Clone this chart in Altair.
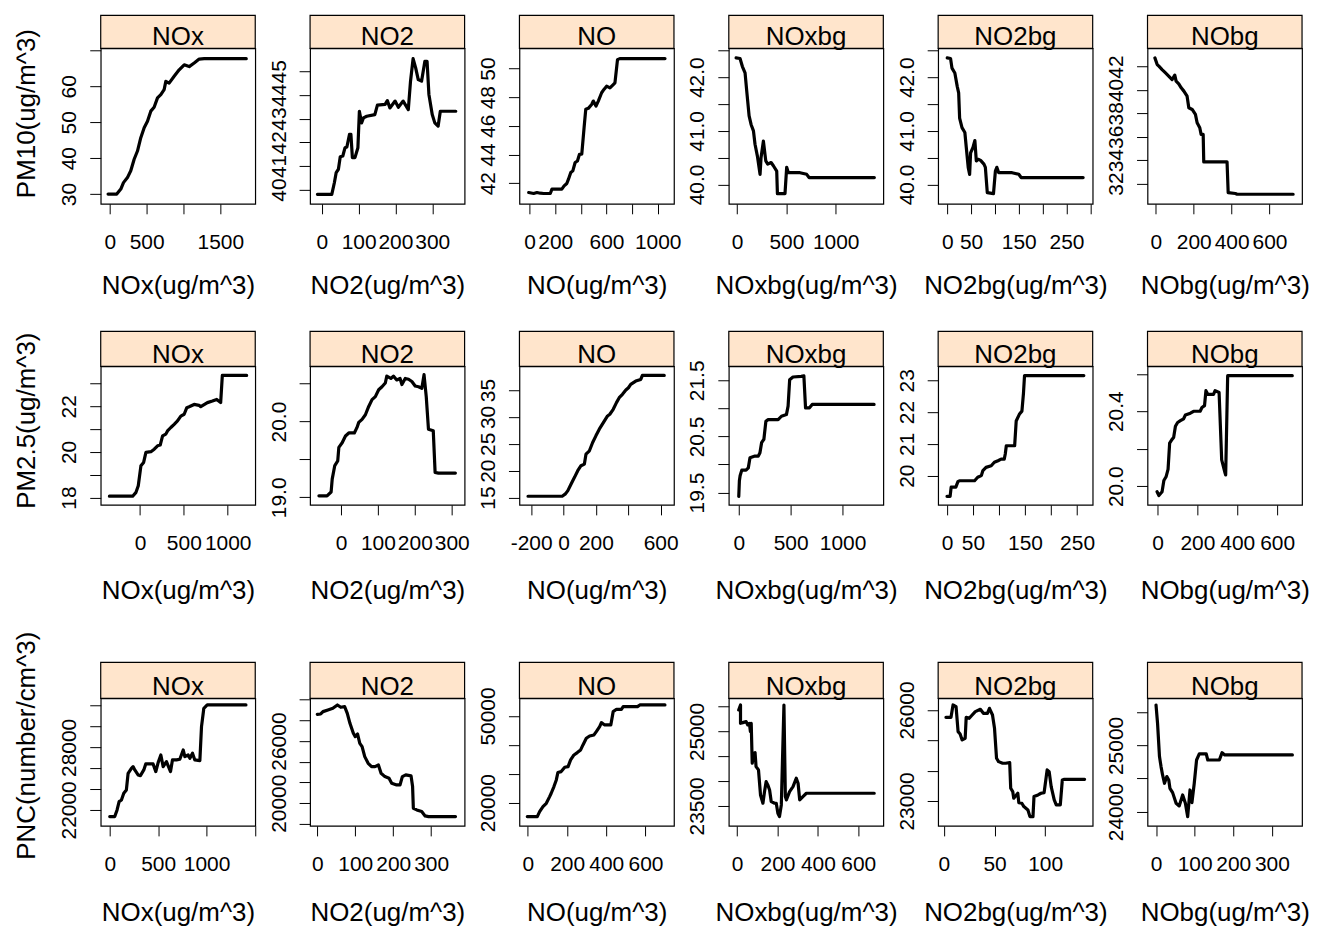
import altair as alt
import pandas as pd

FONT = "Liberation Sans"
POLLUTANTS = ["NOx", "NO2", "NO", "NOxbg", "NO2bg", "NObg"]
X_TITLES = [p + "(ug/m^3)" for p in POLLUTANTS]
Y_TITLES = ["PM10(ug/m^3)", "PM2.5(ug/m^3)", "PNC(number/cm^3)"]

# ---------------- PM10 row ----------------
PM10_NOx_x = [-23, 95, 150, 186, 240, 285, 331, 376, 421, 467, 512, 557, 602, 648, 693, 738, 761, 806, 874, 942, 1010, 1078, 1146, 1214, 1282, 1853]
PM10_NOx_y = [30.0, 30.0, 31.4, 33.2, 34.6, 36.5, 39.7, 42.0, 45.7, 48.5, 50.3, 53.1, 54.2, 56.8, 57.7, 59.1, 61.4, 60.9, 62.8, 64.6, 66.0, 65.5, 66.5, 67.6, 67.7, 67.7]

PM10_NO2_x = [-12, 27, 34, 39, 45, 50, 57, 63, 68, 75, 79, 83, 90, 98, 102, 108, 113, 122, 144, 151, 172, 178, 185, 199, 208, 221, 235, 241, 248, 255, 262, 271, 280, 286, 291, 300, 307, 316, 322, 364]
PM10_NO2_y = [39.80, 39.80, 40.29, 40.72, 40.86, 41.39, 41.42, 41.77, 41.80, 42.33, 42.33, 41.35, 41.35, 41.77, 43.31, 42.82, 43.03, 43.10, 43.17, 43.57, 43.60, 43.76, 43.45, 43.74, 43.48, 43.74, 43.38, 44.58, 45.53, 45.14, 44.65, 44.58, 45.42, 45.42, 44.02, 43.17, 42.82, 42.68, 43.31, 43.31]

PM10_NO_x = [-8, 31, 57, 83, 109, 161, 174, 251, 269, 290, 303, 321, 337, 355, 373, 389, 407, 425, 438, 458, 484, 497, 518, 536, 562, 580, 601, 627, 653, 666, 686, 704, 1057]
PM10_NO_y = [41.35, 41.28, 41.35, 41.30, 41.28, 41.28, 41.58, 41.58, 41.81, 41.98, 42.28, 42.74, 42.86, 43.44, 43.55, 44.02, 44.02, 45.87, 47.15, 47.22, 47.49, 47.73, 47.38, 47.73, 48.31, 48.54, 48.77, 48.65, 48.88, 49.00, 50.62, 50.69, 50.69]

PM10_NOxbg_x = [-10, 30, 54, 81, 98, 122, 142, 166, 182, 206, 233, 243, 267, 291, 311, 345, 368, 402, 409, 486, 503, 520, 638, 706, 730, 1392]
PM10_NOxbg_y = [42.36, 42.35, 42.20, 42.08, 41.74, 41.28, 41.12, 41.00, 40.75, 40.53, 40.19, 40.50, 40.81, 40.44, 40.38, 40.41, 40.35, 40.25, 39.83, 39.83, 40.32, 40.22, 40.22, 40.19, 40.13, 40.13]

PM10_NO2bg_x = [0, 7, 10, 16, 21, 24, 26, 31, 37, 40, 44, 47, 49, 54, 58, 61, 65, 70, 77, 80, 84, 97, 101, 104, 108, 136, 150, 155, 285]
PM10_NO2bg_y = [42.36, 42.35, 42.17, 42.08, 41.83, 41.71, 41.24, 41.06, 40.97, 40.69, 40.32, 40.19, 40.59, 40.69, 40.82, 40.44, 40.47, 40.45, 40.38, 40.32, 39.85, 39.83, 40.25, 40.32, 40.22, 40.22, 40.19, 40.13, 40.13]

PM10_NObg_x = [-5, 7, 16, 33, 51, 69, 86, 100, 107, 121, 134, 148, 165, 174, 192, 209, 218, 232, 239, 250, 253, 376, 382, 420, 429, 725]
PM10_NObg_y = [42.74, 42.17, 42.03, 41.74, 41.46, 41.17, 40.89, 41.26, 40.75, 40.52, 40.18, 39.90, 39.47, 38.48, 38.33, 37.91, 37.20, 36.77, 36.20, 36.20, 33.85, 33.85, 31.23, 31.15, 31.09, 31.09]

# ---------------- PM2.5 row ----------------
PM25_NOx_x = [-348, -83, -45, -19, 11, 42, 68, 125, 163, 201, 231, 258, 295, 314, 352, 390, 428, 466, 504, 534, 561, 617, 674, 693, 769, 826, 875, 920, 939, 1216]
PM25_NOx_y = [18.06, 18.06, 18.23, 18.52, 19.39, 19.54, 19.98, 20.01, 20.12, 20.27, 20.30, 20.70, 20.78, 20.92, 21.07, 21.21, 21.36, 21.57, 21.65, 21.94, 21.98, 22.08, 22.04, 21.98, 22.16, 22.23, 22.30, 22.16, 23.35, 23.35]

PM25_NO2_x = [-60, -38, -27, -24, -17, -9, -6, 3, 12, 21, 36, 43, 48, 57, 66, 75, 84, 93, 102, 111, 120, 124, 135, 142, 151, 160, 165, 174, 183, 192, 201, 210, 219, 225, 231, 237, 250, 255, 264, 310]
PM25_NO2_y = [19.02, 19.02, 19.07, 19.24, 19.42, 19.48, 19.66, 19.72, 19.81, 19.85, 19.85, 19.92, 19.99, 20.03, 20.09, 20.20, 20.29, 20.33, 20.42, 20.46, 20.51, 20.60, 20.57, 20.60, 20.55, 20.57, 20.49, 20.57, 20.56, 20.53, 20.47, 20.46, 20.44, 20.62, 20.33, 19.90, 19.88, 19.33, 19.32, 19.32]

PM25_NO_x = [-219, -8, 12, 27, 47, 68, 88, 108, 129, 139, 160, 180, 200, 221, 246, 272, 286, 307, 327, 344, 364, 385, 401, 415, 446, 477, 487, 503, 622]
PM25_NO_y = [15.25, 15.25, 15.68, 16.30, 17.53, 18.76, 20.00, 20.92, 21.23, 23.08, 23.70, 25.24, 26.48, 27.71, 28.94, 30.18, 30.49, 31.41, 32.65, 33.57, 34.19, 34.99, 35.42, 36.04, 36.66, 36.97, 37.71, 37.71, 37.71]

PM25_NOxbg_x = [0, 6, 13, 29, 70, 92, 108, 156, 188, 204, 220, 242, 261, 283, 379, 411, 459, 475, 490, 522, 602, 627, 643, 681, 707, 1303]
PM25_NOxbg_y = [19.43, 19.71, 19.80, 19.90, 19.90, 19.94, 20.12, 20.15, 20.15, 20.21, 20.39, 20.45, 20.77, 20.80, 20.80, 20.86, 20.89, 21.04, 21.51, 21.56, 21.57, 21.58, 21.01, 21.01, 21.07, 21.07]

PM25_NO2bg_x = [0, 6, 8, 17, 21, 24, 53, 59, 66, 69, 75, 85, 91, 98, 104, 110, 112, 114, 123, 130, 133, 139, 144, 147, 149, 158, 263]
PM25_NO2bg_y = [19.35, 19.35, 19.64, 19.64, 19.81, 19.84, 19.84, 19.95, 20.00, 20.16, 20.26, 20.31, 20.42, 20.47, 20.52, 20.52, 20.68, 20.94, 20.94, 20.94, 21.72, 21.93, 22.03, 22.60, 23.15, 23.15, 23.15]

PM25_NObg_x = [-2, 7, 23, 32, 43, 53, 61, 73, 81, 90, 101, 115, 131, 140, 165, 181, 214, 223, 236, 243, 253, 281, 289, 309, 322, 339, 342, 352, 372, 676]
PM25_NObg_y = [19.97, 19.95, 19.97, 20.03, 20.05, 20.09, 20.23, 20.25, 20.26, 20.32, 20.34, 20.35, 20.36, 20.38, 20.39, 20.40, 20.40, 20.42, 20.43, 20.51, 20.49, 20.49, 20.51, 20.50, 20.14, 20.07, 20.06, 20.59, 20.59, 20.59]

# ---------------- PNC row ----------------
PNC_NOx_x = [0, 52, 76, 97, 121, 145, 172, 190, 224, 241, 259, 293, 317, 352, 372, 407, 448, 476, 500, 528, 552, 586, 628, 648, 690, 724, 759, 776, 810, 828, 855, 879, 931, 948, 972, 1007, 1407]
PNC_NOx_y = [21361, 21361, 22000, 22799, 22958, 23598, 23917, 25515, 25994, 26154, 25834, 25355, 25291, 25834, 26409, 26409, 26409, 25674, 26537, 27272, 26154, 26633, 25674, 26793, 26793, 26856, 27751, 27112, 27272, 26952, 27432, 26793, 26729, 29988, 31745, 32064, 32064]

PNC_NO2_x = [0, 9, 15, 28, 41, 53, 62, 72, 79, 86, 95, 100, 106, 112, 118, 125, 134, 143, 152, 161, 168, 178, 189, 196, 209, 218, 224, 233, 247, 251, 253, 262, 275, 284, 293, 364]
PNC_NO2_y = [28584, 28616, 28841, 29002, 29163, 29484, 29259, 29324, 28681, 27716, 26752, 26430, 26688, 25787, 25466, 24501, 23858, 23537, 23537, 23697, 22894, 22572, 22411, 21929, 21768, 21768, 22572, 22733, 22636, 21608, 19518, 19357, 19196, 18778, 18714, 18714]

PNC_NO_x = [-3, 48, 60, 77, 94, 111, 119, 133, 145, 153, 170, 188, 205, 218, 235, 252, 269, 281, 298, 315, 337, 349, 366, 375, 392, 423, 435, 452, 477, 486, 529, 559, 571, 597, 699]
PNC_NO_y = [15153, 15153, 16884, 18615, 19769, 22077, 23231, 25539, 27847, 30386, 30732, 32232, 32463, 34771, 36502, 37310, 38233, 39964, 42272, 43080, 43426, 44580, 46311, 47696, 46888, 46888, 51504, 52312, 52312, 53235, 53235, 53235, 53812, 53812, 53812]

PNC_NOxbg_x = [8, 17, 17, 28, 45, 53, 61, 66, 70, 75, 83, 89, 94, 106, 116, 128, 136, 144, 152, 161, 169, 186, 194, 202, 210, 219, 232, 239, 244, 260, 277, 293, 302, 310, 326, 343, 679]
PNC_NOxbg_y = [25433, 25533, 25164, 25178, 25198, 25131, 25164, 24997, 25164, 24359, 24560, 24574, 24292, 24225, 23721, 23554, 23789, 23990, 23923, 23822, 23587, 23554, 23554, 23352, 23285, 23520, 25533, 23688, 23621, 23789, 23889, 24057, 23956, 23621, 23688, 23755, 23755]

PNC_NO2bg_x = [2, 7, 9, 12, 14, 16, 18, 21, 22, 25, 27, 31, 36, 39, 43, 45, 48, 50, 52, 54, 58, 61, 65, 66, 68, 69, 73, 74, 77, 79, 83, 85, 88, 89, 93, 96, 99, 102, 104, 106, 109, 111, 115, 117, 119, 139]
PNC_NO2bg_y = [25758, 25758, 26165, 26110, 25286, 25209, 25011, 25066, 25758, 25725, 25802, 25945, 26022, 25890, 25890, 26055, 25835, 25396, 24407, 24297, 24242, 24242, 24264, 23418, 23308, 23088, 23253, 22945, 22923, 22813, 22703, 22483, 22483, 23143, 23198, 23253, 23275, 24022, 23967, 23473, 23033, 22868, 22868, 23692, 23714, 23714]

PNC_NObg_x = [0, 4, 9, 13, 17, 22, 28, 33, 36, 43, 52, 60, 69, 76, 82, 88, 93, 99, 105, 112, 130, 134, 164, 171, 178, 353]
PNC_NObg_y = [25611, 25334, 24831, 24680, 24554, 24428, 24529, 24478, 24352, 24287, 24126, 24086, 24252, 24126, 23924, 24327, 24136, 24428, 24780, 24871, 24871, 24780, 24780, 24891, 24856, 24856]

SERIES = [
    [(PM10_NOx_x, PM10_NOx_y), (PM10_NO2_x, PM10_NO2_y), (PM10_NO_x, PM10_NO_y),
     (PM10_NOxbg_x, PM10_NOxbg_y), (PM10_NO2bg_x, PM10_NO2bg_y), (PM10_NObg_x, PM10_NObg_y)],
    [(PM25_NOx_x, PM25_NOx_y), (PM25_NO2_x, PM25_NO2_y), (PM25_NO_x, PM25_NO_y),
     (PM25_NOxbg_x, PM25_NOxbg_y), (PM25_NO2bg_x, PM25_NO2bg_y), (PM25_NObg_x, PM25_NObg_y)],
    [(PNC_NOx_x, PNC_NOx_y), (PNC_NO2_x, PNC_NO2_y), (PNC_NO_x, PNC_NO_y),
     (PNC_NOxbg_x, PNC_NOxbg_y), (PNC_NO2bg_x, PNC_NO2bg_y), (PNC_NObg_x, PNC_NObg_y)],
]

# axis ranges (lattice style, padded)
X_DOMAINS = [
    [[-123, 1975], [-32, 388], [-80, 1127], [-84, 1483], [-19, 305], [-44, 772]],
    [[-447, 1314], [-84, 335], [-272, 682], [-96, 1392], [-17, 280], [-50, 725]],
    [[-93, 1503], [-19, 388], [-43, 745], [-41, 724], [-5.7, 147], [-22, 378]],
]
Y_DOMAINS = [
    [[27.3, 70.6], [39.40, 45.97], [40.56, 51.41], [39.64, 42.54], [39.64, 42.54], [30.27, 43.56]],
    [[17.68, 23.75], [18.90, 20.73], [13.64, 39.4], [19.28, 21.75], [19.08, 23.44], [19.90, 20.64]],
    [[20466, 32703], [17814, 30127], [11922, 56115], [23097, 25668], [22176, 26385], [23784, 25712]],
]

# tick marks and which tick labels are hidden
X_TICKS = [
    [[0, 500, 1000, 1500], [0, 100, 200, 300], [0, 200, 400, 600, 800, 1000], [0, 500, 1000], [0, 50, 100, 150, 200, 250, 300], [0, 200, 400, 600]],
    [[0, 500, 1000], [0, 100, 200, 300], [-200, 0, 200, 400, 600], [0, 500, 1000], [0, 50, 100, 150, 200, 250], [0, 200, 400, 600]],
    [[0, 500, 1000, 1500], [0, 100, 200, 300], [0, 200, 400, 600], [0, 200, 400, 600], [0, 50, 100], [0, 100, 200, 300]],
]
X_HIDE = [
    [[1000], [], [400, 800], [], [100, 200, 300], []],
    [[], [], [400], [], [100, 200], []],
    [[1500], [], [], [], [], []],
]
Y_TICKS = [
    [[30, 40, 50, 60, 70], [40, 41, 42, 43, 44, 45], [42, 44, 46, 48, 50], [40, 40.5, 41, 41.5, 42, 42.5], [40, 40.5, 41, 41.5, 42, 42.5], [32, 34, 36, 38, 40, 42]],
    [[18, 19, 20, 21, 22, 23], [19, 19.5, 20, 20.5], [15, 20, 25, 30, 35], [19.5, 20, 20.5, 21, 21.5], [20, 21, 22, 23], [20, 20.2, 20.4, 20.6]],
    [[22000, 24000, 26000, 28000, 30000, 32000], [18000, 20000, 22000, 24000, 26000, 28000, 30000], [20000, 30000, 40000, 50000], [23500, 24000, 24500, 25000, 25500], [23000, 24000, 25000, 26000], [24000, 24500, 25000, 25500]],
]
Y_HIDE = [
    [[70], [], [], [40.5, 41.5, 42.5], [40.5, 41.5, 42.5], []],
    [[19, 21, 23], [19.5, 20.5], [], [20, 21], [], [20.2, 20.6]],
    [[24000, 26000, 30000, 32000], [18000, 22000, 24000, 28000, 30000], [30000, 40000], [24000, 24500, 25500], [24000, 25000], [24500, 25500]],
]
Y_FMT = [
    ["d", "d", "d", ".1f", ".1f", "d"],
    ["d", ".1f", "d", ".1f", "d", ".1f"],
    ["d", "d", "d", "d", "d", "d"],
]

PANEL_W = 155
STRIP_H = [33, 35, 36]
PLOT_H = [156, 139, 128]
YTITLE_X = -66
YTITLE_Y = [65, 54, 47]
XTITLE_Y = [90, 94, 95]


def label_expr(hide):
    base = "replace(datum.label, '\u2212', '-')"
    if not hide:
        return base
    vals = ",".join(repr(v) for v in hide)
    return "indexof([" + vals + "], datum.value) >= 0 ? '' : " + base


def make_panel(r, c):
    xs, ys = SERIES[r][c]
    df = pd.DataFrame({"i": list(range(len(xs))), "x": xs, "y": ys})

    xaxis = dict(values=X_TICKS[r][c], format="d", titleY=XTITLE_Y[r],
                 titleBaseline="alphabetic", labelPadding=18, tickSize=10,
                 labelExpr=label_expr(X_HIDE[r][c]))
    yaxis = dict(values=Y_TICKS[r][c], format=Y_FMT[r][c], labelAngle=-90,
                 labelAlign="center", labelBaseline="alphabetic", labelPadding=14,
                 tickSize=11, labelExpr=label_expr(Y_HIDE[r][c]))
    if c == 0:
        yaxis.update(titleX=YTITLE_X, titleY=YTITLE_Y[r], titleAngle=270,
                     titleBaseline="alphabetic", titleAlign="center")

    line = alt.Chart(df).mark_line(
        color="black", strokeWidth=3.2, strokeJoin="round", strokeCap="round"
    ).encode(
        x=alt.X("x:Q", title=X_TITLES[c],
                scale=alt.Scale(domain=X_DOMAINS[r][c], nice=False, zero=False),
                axis=alt.Axis(**xaxis)),
        y=alt.Y("y:Q", title=(Y_TITLES[r] if c == 0 else None),
                scale=alt.Scale(domain=Y_DOMAINS[r][c], nice=False, zero=False),
                axis=alt.Axis(**yaxis)),
        order="i:Q",
    )

    lab = pd.DataFrame({"lab": [POLLUTANTS[c]]})
    strip_box = alt.Chart(lab).mark_rect(
        fill="#FFE5CC", stroke="black", strokeWidth=1.2
    ).encode(
        x=alt.value(0), x2=alt.value(PANEL_W),
        y=alt.value(-STRIP_H[r]), y2=alt.value(0),
    )
    strip_text = alt.Chart(lab).mark_text(
        font=FONT, fontSize=26, color="black", baseline="alphabetic", align="center"
    ).encode(
        text="lab:N",
        x=alt.value(PANEL_W / 2), y=alt.value(-3.5),
    )
    return alt.layer(line, strip_box, strip_text).properties(
        width=PANEL_W, height=PLOT_H[r],
        view=alt.ViewBackground(fill="white", stroke="black", strokeWidth=1.2),
    )


rows = []
for r in range(3):
    rows.append(alt.hconcat(*[make_panel(r, c) for c in range(6)], spacing=55, bounds="flush"))

chart = alt.vconcat(
    rows[0],
    alt.vconcat(rows[1], rows[2], spacing=25),
    spacing=30,
).properties(
    padding={"left": 5, "top": 4, "right": 5, "bottom": 5},
    background="white",
).configure(
    font=FONT,
).configure_axis(
    labelFont=FONT, titleFont=FONT, labelFontSize=21, titleFontSize=26,
    titleFontWeight="normal", labelColor="black", titleColor="black",
    tickColor="black", tickWidth=1, domain=False, grid=False,
    labelOverlap=False, labelFlush=False, labelBound=False,
)

chart.save("out.html", embed_options={"renderer": "svg", "actions": False})
